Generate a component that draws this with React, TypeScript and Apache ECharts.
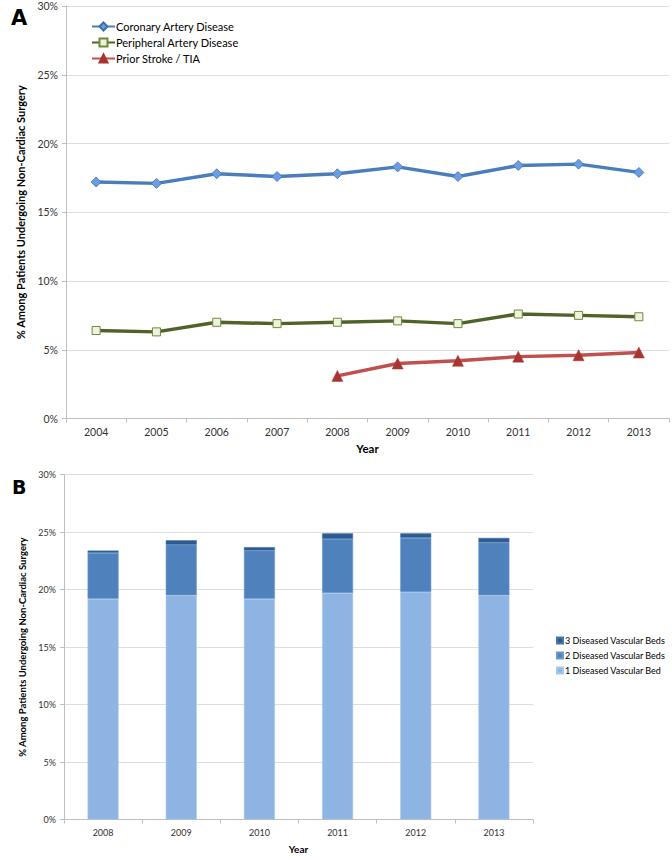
import React, { useEffect, useRef } from "react";
import * as echarts from "echarts";

const yearsA = ["2004", "2005", "2006", "2007", "2008", "2009", "2010", "2011", "2012", "2013"];
const cad = [17.2, 17.1, 17.8, 17.6, 17.8, 18.3, 17.6, 18.4, 18.5, 17.9];
const pad = [6.4, 6.3, 7.0, 6.9, 7.0, 7.1, 6.9, 7.6, 7.5, 7.4];
const stroke = [null, null, null, null, 3.1, 4.0, 4.2, 4.5, 4.6, 4.8];

const yearsB = ["2008", "2009", "2010", "2011", "2012", "2013"];
const beds1 = [19.2, 19.5, 19.2, 19.7, 19.8, 19.5];
const beds2 = [4.0, 4.4, 4.2, 4.7, 4.7, 4.6];
const beds3 = [0.2, 0.4, 0.3, 0.5, 0.4, 0.4];

const lineNames = ["Coronary Artery Disease", "Peripheral Artery Disease", "Prior Stroke / TIA"];
const barNames = ["1 Diseased Vascular Bed", "2 Diseased Vascular Beds", "3 Diseased Vascular Beds"];
const yTitle = "% Among Patients Undergoing Non-Cardiac Surgery";

const FONT = "Lato";

export default function App() {
  const ref = useRef<HTMLDivElement>(null);
  useEffect(() => {
    document.body.style.margin = "0";
    const chart = echarts.init(ref.current!, null, { renderer: "svg" });
    const yAxisCommon = (fs: number, nameFs: number, gap: number) => ({
      type: "value",
      min: 0,
      max: 30,
      interval: 5,
      name: yTitle,
      nameLocation: "middle",
      nameGap: gap,
      nameTextStyle: { fontFamily: FONT, fontSize: nameFs, fontWeight: "bold", color: "#000" },
      axisLabel: { formatter: "{value}%", fontFamily: FONT, fontSize: fs, color: "#333", margin: 8 },
      axisLine: { show: true, lineStyle: { color: "#bfbfbf" } },
      axisTick: { show: true, length: 4, lineStyle: { color: "#bfbfbf" } },
      splitLine: { show: true, lineStyle: { color: "#dedede" } },
    });
    const xAxisCommon = (data: string[], fs: number, gap: number) => ({
      type: "category",
      data,
      boundaryGap: true,
      name: "Year",
      nameLocation: "middle",
      nameGap: gap,
      nameTextStyle: { fontFamily: FONT, fontSize: fs + 1, fontWeight: "bold", color: "#000" },
      axisLabel: { fontFamily: FONT, fontSize: fs, color: "#333", margin: 8 },
      axisLine: { show: true, lineStyle: { color: "#bfbfbf" } },
      axisTick: { show: true, length: 4, alignWithLabel: false, lineStyle: { color: "#bfbfbf" } },
      splitLine: { show: false },
    });
    chart.setOption({
      animation: false,
      backgroundColor: "#fff",
      graphic: [
        { type: "text", left: 11, top: 7, style: { text: "A", font: "900 21px 'DejaVu Sans'", fill: "#000" } },
        { type: "text", left: 12, top: 477, style: { text: "B", font: "900 19px 'DejaVu Sans'", fill: "#000" } },
      ],
      grid: [
        { left: 66, right: 3, top: 6, bottom: 441.5, containLabel: false },
        { left: 64, right: 139, top: 474.7, bottom: 40.5, containLabel: false },
      ],
      xAxis: [
        { ...xAxisCommon(yearsA, 10.5, 24), gridIndex: 0 },
        { ...xAxisCommon(yearsB, 9, 24), gridIndex: 1 },
      ],
      yAxis: [
        { ...yAxisCommon(10.5, 11, 40), gridIndex: 0 },
        { ...yAxisCommon(9, 9.5, 36), gridIndex: 1 },
      ],
      legend: [
        {
          orient: "vertical",
          left: 86,
          top: 16,
          itemWidth: 23,
          itemHeight: 10,
          itemGap: 5,
          data: lineNames,
          textStyle: { fontFamily: FONT, fontSize: 11, color: "#000", padding: [0, 0, 0, -4] },
        },
        {
          orient: "vertical",
          left: 551,
          top: 631,
          itemWidth: 6,
          itemHeight: 6,
          itemGap: 6,
          icon: "rect",
          data: [barNames[2], barNames[1], barNames[0]],
          textStyle: { fontFamily: FONT, fontSize: 9, color: "#000", padding: [0, 0, 0, -3] },
        },
      ],
      series: [
        {
          name: lineNames[0],
          type: "line",
          xAxisIndex: 0,
          yAxisIndex: 0,
          data: cad,
          symbol: "diamond",
          symbolSize: 10,
          lineStyle: { color: "#4a7ebb", width: 3.5 },
          itemStyle: { color: "#6a9ee0", borderColor: "#3d6fae", borderWidth: 0.8 },
        },
        {
          name: lineNames[1],
          type: "line",
          xAxisIndex: 0,
          yAxisIndex: 0,
          data: pad,
          symbol: "rect",
          symbolSize: 8,
          lineStyle: { color: "#4f6228", width: 3.5 },
          itemStyle: { color: "#eef3e0", borderColor: "#6f8a3a", borderWidth: 1 },
        },
        {
          name: lineNames[2],
          type: "line",
          xAxisIndex: 0,
          yAxisIndex: 0,
          data: stroke,
          symbol: "triangle",
          symbolSize: 11,
          lineStyle: { color: "#c0504d", width: 3.5 },
          itemStyle: { color: "#a83532", borderColor: "#a83532", borderWidth: 0.5 },
        },
        {
          name: barNames[0],
          type: "bar",
          stack: "beds",
          xAxisIndex: 1,
          yAxisIndex: 1,
          data: beds1,
          barWidth: 31,
          itemStyle: { color: "#8eb4e3", borderColor: "#a9c6ec", borderWidth: 0.6 },
        },
        {
          name: barNames[1],
          type: "bar",
          stack: "beds",
          xAxisIndex: 1,
          yAxisIndex: 1,
          data: beds2,
          barWidth: 31,
          itemStyle: { color: "#4f81bd", borderColor: "#6c98cc", borderWidth: 0.6 },
        },
        {
          name: barNames[2],
          type: "bar",
          stack: "beds",
          xAxisIndex: 1,
          yAxisIndex: 1,
          data: beds3,
          barWidth: 31,
          itemStyle: { color: "#2c5a91", borderColor: "#4a77ad", borderWidth: 0.6 },
        },
      ],
    });
    return () => chart.dispose();
  }, []);
  return <div ref={ref} style={{ width: 672, height: 860 }} />;
}
